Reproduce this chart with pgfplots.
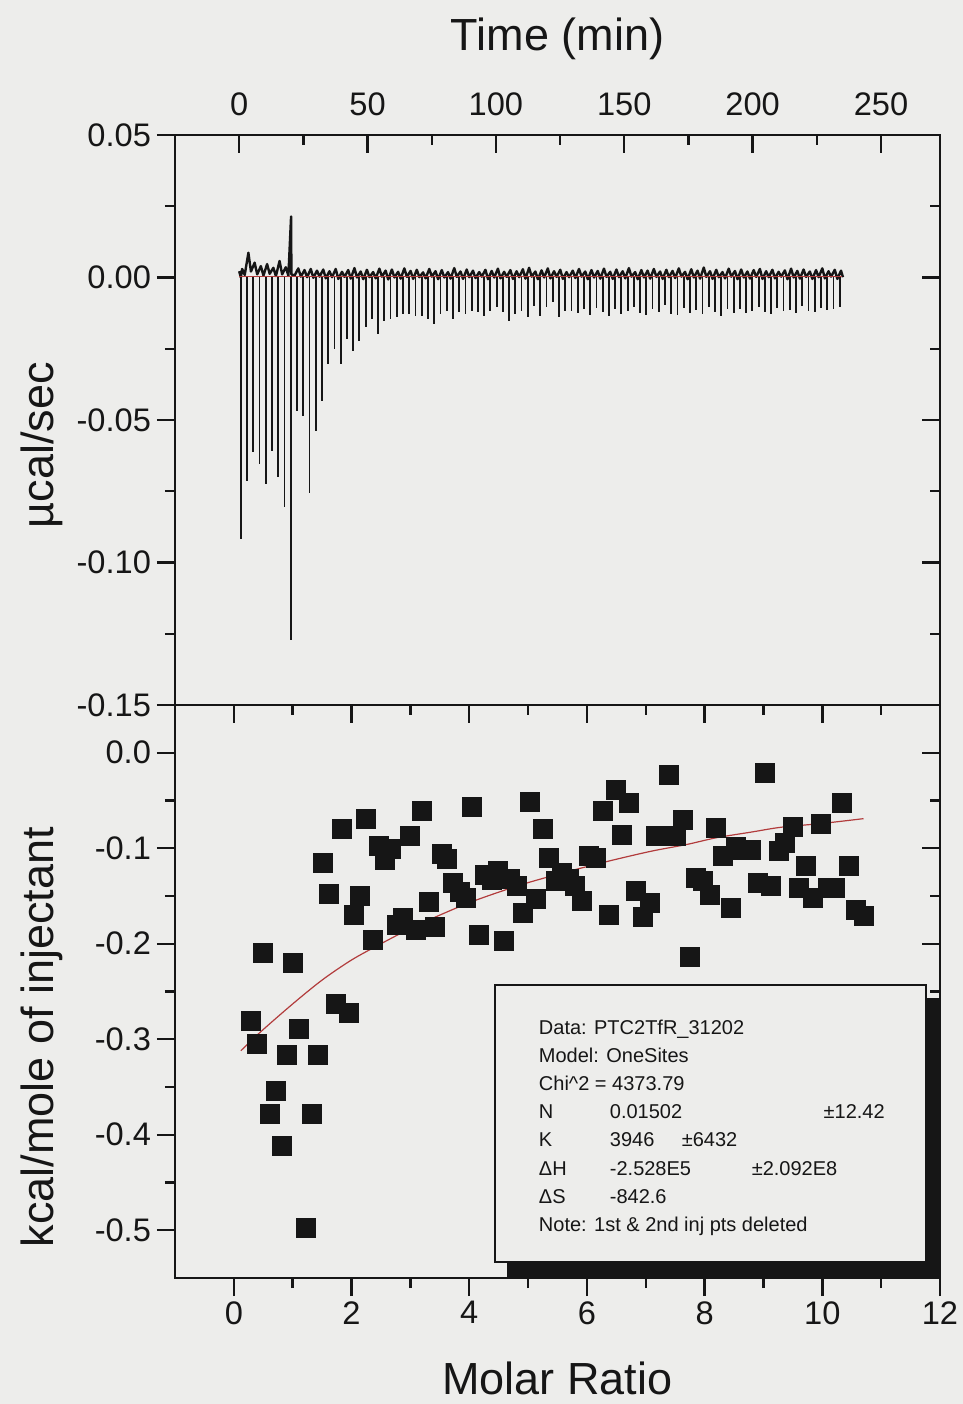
\documentclass[border=0pt]{standalone}
\usepackage{pgfplots}
\pgfplotsset{compat=1.18}
\usepackage{pgfplotstable}
\usepackage{fontspec}
\setmainfont{Liberation Sans}
\definecolor{bgc}{RGB}{237,237,235}
\definecolor{fitred}{RGB}{178,60,60}
\definecolor{ink}{RGB}{22,22,22}

\pgfplotstableread{
t d
0.66 -0.0916
3.09 -0.0713
5.52 -0.0612
7.95 -0.0654
10.38 -0.0724
12.81 -0.0608
15.24 -0.0699
17.67 -0.0804
20.10 -0.1273
22.53 -0.0469
24.96 -0.0486
27.39 -0.0755
29.82 -0.0539
32.25 -0.0434
34.68 -0.0304
37.11 -0.0252
39.54 -0.0304
41.97 -0.0217
44.40 -0.0259
46.83 -0.0224
49.26 -0.0175
51.69 -0.0147
54.12 -0.0199
56.55 -0.0154
58.98 -0.0147
61.41 -0.0140
63.84 -0.0129
66.27 -0.0129
68.70 -0.0136
71.13 -0.0136
73.56 -0.0147
75.99 -0.0164
78.42 -0.0129
80.85 -0.0119
83.28 -0.0147
85.71 -0.0122
88.14 -0.0129
90.57 -0.0119
93.00 -0.0122
95.43 -0.0136
97.86 -0.0119
100.29 -0.0105
102.72 -0.0122
105.15 -0.0154
107.58 -0.0129
110.01 -0.0119
112.44 -0.0140
114.87 -0.0101
117.30 -0.0136
119.73 -0.0105
122.16 -0.0087
124.59 -0.0140
127.02 -0.0119
129.45 -0.0119
131.88 -0.0125
134.31 -0.0112
136.74 -0.0131
139.17 -0.0108
141.60 -0.0122
144.03 -0.0135
146.46 -0.0110
148.89 -0.0128
151.32 -0.0117
153.75 -0.0104
156.18 -0.0126
158.61 -0.0133
161.04 -0.0112
163.47 -0.0121
165.90 -0.0098
168.33 -0.0127
170.76 -0.0131
173.19 -0.0106
175.62 -0.0124
178.05 -0.0115
180.48 -0.0129
182.91 -0.0102
185.34 -0.0120
187.77 -0.0134
190.20 -0.0111
192.63 -0.0123
195.06 -0.0109
197.49 -0.0126
199.92 -0.0118
202.35 -0.0104
204.78 -0.0121
207.21 -0.0128
209.64 -0.0107
212.07 -0.0119
214.50 -0.0113
216.93 -0.0125
219.36 -0.0101
221.79 -0.0117
224.22 -0.0122
226.65 -0.0108
229.08 -0.0115
231.51 -0.0111
233.94 -0.0105
}\spikes

\pgfplotstableread{
x y
0.30 -0.281
0.40 -0.305
0.50 -0.210
0.61 -0.378
0.71 -0.354
0.81 -0.412
0.91 -0.316
1.01 -0.220
1.11 -0.289
1.22 -0.498
1.32 -0.378
1.43 -0.316
1.52 -0.115
1.62 -0.148
1.74 -0.263
1.84 -0.080
1.95 -0.273
2.04 -0.170
2.14 -0.150
2.24 -0.069
2.37 -0.196
2.47 -0.098
2.57 -0.112
2.67 -0.101
2.78 -0.180
2.87 -0.173
2.99 -0.087
3.10 -0.186
3.19 -0.061
3.31 -0.156
3.42 -0.182
3.53 -0.106
3.62 -0.111
3.73 -0.136
3.84 -0.146
3.94 -0.152
4.05 -0.057
4.16 -0.191
4.27 -0.128
4.38 -0.133
4.49 -0.124
4.59 -0.197
4.70 -0.132
4.81 -0.140
4.92 -0.168
5.03 -0.052
5.14 -0.153
5.25 -0.080
5.36 -0.110
5.47 -0.134
5.58 -0.126
5.69 -0.132
5.80 -0.140
5.91 -0.155
6.03 -0.108
6.15 -0.110
6.28 -0.061
6.37 -0.170
6.50 -0.039
6.60 -0.086
6.72 -0.053
6.84 -0.145
6.95 -0.172
7.08 -0.157
7.18 -0.087
7.30 -0.087
7.40 -0.023
7.51 -0.087
7.63 -0.070
7.75 -0.214
7.86 -0.131
7.97 -0.134
8.09 -0.149
8.20 -0.079
8.31 -0.108
8.44 -0.163
8.54 -0.099
8.66 -0.102
8.79 -0.102
8.91 -0.136
9.02 -0.021
9.13 -0.140
9.26 -0.103
9.37 -0.095
9.50 -0.078
9.61 -0.142
9.73 -0.119
9.85 -0.152
9.98 -0.075
10.09 -0.142
10.22 -0.142
10.33 -0.053
10.46 -0.119
10.57 -0.165
10.70 -0.171
}\heats

\pgfplotsset{
 itcstyle/.style={
  scale only axis, width=382.5pt,
  axis line style={line width=1.4pt, ink},
  tick align=center,
  major tick length=9pt, minor tick length=5pt,
  every tick/.append style={line width=1.2pt, ink},
  every major x tick/.append style={yshift=-4.5pt},
  every minor x tick/.append style={yshift=-2.5pt},
  every major y tick/.append style={xshift=-4.5pt},
  every minor y tick/.append style={xshift=-2.5pt},
  tick label style={font=\fontsize{16.3}{19}\selectfont, text=ink},
  /pgf/number format/assume math mode=true,
  label style={font=\fontsize{22.5}{26}\selectfont, text=ink},
 }
}

\begin{document}
\begin{tikzpicture}
\path[use as bounding box] (-87.5pt,-63pt) rectangle (394pt,639pt);
\fill[bgc] (-87.5pt,-63pt) rectangle (394pt,639pt);

% ---------------- top panel: raw heat rate ----------------
\begin{axis}[itcstyle, at={(0,286.5pt)}, anchor=south west, height=285pt,
 xmin=-25, xmax=273, ymin=-0.15, ymax=0.05,
 xtick={0,50,100,150,200,250}, minor x tick num=1,
 xtick pos=right, xticklabel pos=right,
 ytick={-0.15,-0.1,-0.05,0,0.05}, minor y tick num=1,
 yticklabel style={/pgf/number format/fixed, /pgf/number format/fixed zerofill, /pgf/number format/precision=2, xshift=-4pt},
 xticklabel style={yshift=1.7pt},
 xlabel={Time (min)}, xlabel style={at={(axis description cs:0.5,1.149)}, anchor=base},
 ylabel={µcal/sec}, ylabel style={at={(axis description cs:-0.174,0.456)}, anchor=center},
]
\addplot[ycomb, ink, line width=0.9pt] table[x=t,y=d] {\spikes};
\addplot[ink, line width=1.2pt, line join=round] coordinates {
(0,0.0022) (0.66,0.0000)
(1.16,0.0030) (2.16,0.0009)
(3.59,0.0087) (4.59,0.0021)
(6.02,0.0052) (7.02,0.0011)
(8.45,0.0040) (9.45,0.0007)
(10.88,0.0047) (11.88,0.0013)
(13.31,0.0034) (14.31,0.0005)
(15.74,0.0058) (16.74,0.0011)
(18.17,0.0036) (19.17,0.0006)
(20.22,0.0214) (20.35,0.0011) (21.60,0.0007)
(23.03,0.0032) (24.03,0.0003)
(25.46,0.0026) (26.46,0.0001)
(27.89,0.0030) (28.89,-0.0001)
(30.32,0.0024) (31.32,0.0003)
(32.75,0.0028) (33.75,-0.0003)
(35.18,0.0022) (36.18,0.0001)
(37.61,0.0030) (38.61,-0.0005)
(40.04,0.0020) (41.04,0.0002)
(42.47,0.0026) (43.47,-0.0004)
(44.90,0.0033) (45.90,0.0000)
(47.33,0.0021) (48.33,-0.0006)
(49.76,0.0027) (50.76,0.0001)
(52.19,0.0019) (53.19,-0.0003)
(54.62,0.0031) (55.62,0.0003)
(57.05,0.0024) (58.05,-0.0007)
(59.48,0.0028) (60.48,0.0000)
(61.91,0.0020) (62.91,-0.0004)
(64.34,0.0032) (65.34,0.0002)
(66.77,0.0023) (67.77,-0.0005)
(69.20,0.0027) (70.20,0.0001)
(71.63,0.0018) (72.63,-0.0003)
(74.06,0.0030) (75.06,0.0003)
(76.49,0.0022) (77.49,-0.0006)
(78.92,0.0026) (79.92,0.0000)
(81.35,0.0019) (82.35,-0.0004)
(83.78,0.0033) (84.78,0.0002)
(86.21,0.0021) (87.21,-0.0005)
(88.64,0.0028) (89.64,0.0001)
(91.07,0.0024) (92.07,-0.0002)
(93.50,0.0019) (94.50,0.0003)
(95.93,0.0027) (96.93,-0.0006)
(98.36,0.0023) (99.36,0.0000)
(100.79,0.0031) (101.79,-0.0003)
(103.22,0.0020) (104.22,0.0002)
(105.65,0.0026) (106.65,-0.0005)
(108.08,0.0022) (109.08,0.0001)
(110.51,0.0029) (111.51,-0.0004)
(112.94,0.0034) (113.94,0.0003)
(115.37,0.0021) (116.37,-0.0006)
(117.80,0.0025) (118.80,0.0000)
(120.23,0.0032) (121.23,-0.0003)
(122.66,0.0022) (123.66,0.0002)
(125.09,0.0027) (126.09,-0.0005)
(127.52,0.0019) (128.52,0.0001)
(129.95,0.0024) (130.95,-0.0002)
(132.38,0.0030) (133.38,0.0003)
(134.81,0.0021) (135.81,-0.0006)
(137.24,0.0026) (138.24,0.0000)
(139.67,0.0023) (140.67,-0.0004)
(142.10,0.0031) (143.10,0.0002)
(144.53,0.0020) (145.53,-0.0005)
(146.96,0.0028) (147.96,0.0001)
(149.39,0.0022) (150.39,-0.0003)
(151.82,0.0033) (152.82,0.0003)
(154.25,0.0019) (155.25,-0.0006)
(156.68,0.0026) (157.68,0.0000)
(159.11,0.0024) (160.11,-0.0004)
(161.54,0.0030) (162.54,0.0002)
(163.97,0.0021) (164.97,-0.0005)
(166.40,0.0027) (167.40,0.0001)
(168.83,0.0023) (169.83,-0.0002)
(171.26,0.0032) (172.26,0.0003)
(173.69,0.0020) (174.69,-0.0006)
(176.12,0.0029) (177.12,0.0000)
(178.55,0.0024) (179.55,-0.0004)
(180.98,0.0035) (181.98,0.0002)
(183.41,0.0022) (184.41,-0.0005)
(185.84,0.0027) (186.84,0.0001)
(188.27,0.0019) (189.27,-0.0003)
(190.70,0.0031) (191.70,0.0003)
(193.13,0.0023) (194.13,-0.0006)
(195.56,0.0028) (196.56,0.0000)
(197.99,0.0021) (198.99,-0.0004)
(200.42,0.0026) (201.42,0.0002)
(202.85,0.0030) (203.85,-0.0005)
(205.28,0.0022) (206.28,0.0001)
(207.71,0.0027) (208.71,-0.0003)
(210.14,0.0020) (211.14,0.0003)
(212.57,0.0025) (213.57,-0.0006)
(215.00,0.0031) (216.00,0.0000)
(217.43,0.0023) (218.43,-0.0004)
(219.86,0.0028) (220.86,0.0002)
(222.29,0.0021) (223.29,-0.0005)
(224.72,0.0026) (225.72,0.0001)
(227.15,0.0032) (228.15,-0.0003)
(229.58,0.0022) (230.58,0.0003)
(232.01,0.0027) (233.01,-0.0005)
(234.44,0.0024) (235.20,0.0001)
};
\addplot[fitred, line width=0.5pt] coordinates {(0,0.0002) (235,0.0002)};
\end{axis}

% ---------------- bottom panel: integrated heats ----------------
\begin{axis}[itcstyle, at={(0,0)}, anchor=south west, height=286.5pt,
 xmin=-1, xmax=12, ymin=-0.55, ymax=0.05,
 xtick={0,2,4,6,8,10,12}, minor x tick num=1,
 ytick={-0.5,-0.4,-0.3,-0.2,-0.1,0}, minor y tick num=1,
 yticklabel style={/pgf/number format/fixed, /pgf/number format/fixed zerofill, /pgf/number format/precision=1, xshift=-4pt},
 xticklabel style={yshift=-3.7pt},
 xlabel={Molar Ratio}, xlabel style={at={(axis description cs:0.5,-0.203)}, anchor=base},
 ylabel={kcal/mole of injectant}, ylabel style={at={(axis description cs:-0.174,0.42)}, anchor=center},
 clip=false,
]
\addplot[only marks, mark=square*, mark size=4.75pt, mark options={fill=ink, draw=ink, line width=0pt}] table[x=x,y=y] {\heats};
\addplot[fitred, line width=0.6pt, smooth] coordinates {
(0.12,-0.312) (0.46,-0.292) (1.0,-0.263) (1.5,-0.238) (2.0,-0.217) (2.5,-0.200)
(3.0,-0.184) (3.5,-0.170) (4.0,-0.157) (4.5,-0.146) (5.0,-0.136) (5.7,-0.124)
(6.4,-0.113) (7.1,-0.103) (7.7,-0.096) (8.2,-0.089) (8.8,-0.083) (9.3,-0.078)
(10.0,-0.074) (10.7,-0.069)};
\fill[ink] (axis cs:4.65,-0.5495) rectangle (axis cs:12,-0.257);
\filldraw[fill=bgc, draw=ink, line width=1pt] (axis cs:4.43,-0.5336) rectangle (axis cs:11.77,-0.2437);
\begin{scope}[every node/.style={anchor=base west, inner sep=0pt, font=\fontsize{10}{12}\selectfont, text=ink}]
\node at (axis cs:5.178,-0.2952) {Data: PTC2TfR\_31202};
\node at (axis cs:5.178,-0.3246) {Model: OneSites};
\node at (axis cs:5.178,-0.3540) {Chi\textasciicircum 2 = 4373.79};
\node at (axis cs:5.178,-0.3834) {N};
\node at (axis cs:6.384,-0.3834) {0.01502};
\node at (axis cs:10.017,-0.3834) {±12.42};
\node at (axis cs:5.178,-0.4128) {K};
\node at (axis cs:6.384,-0.4128) {3946};
\node at (axis cs:7.606,-0.4128) {±6432};
\node at (axis cs:5.178,-0.4422) {ΔH};
\node at (axis cs:6.384,-0.4422) {-2.528E5};
\node at (axis cs:8.795,-0.4422) {±2.092E8};
\node at (axis cs:5.178,-0.4716) {ΔS};
\node at (axis cs:6.384,-0.4716) {-842.6};
\node at (axis cs:5.178,-0.5011) {Note: 1st \& 2nd inj pts deleted};
\end{scope}
\end{axis}
\end{tikzpicture}
\end{document}
